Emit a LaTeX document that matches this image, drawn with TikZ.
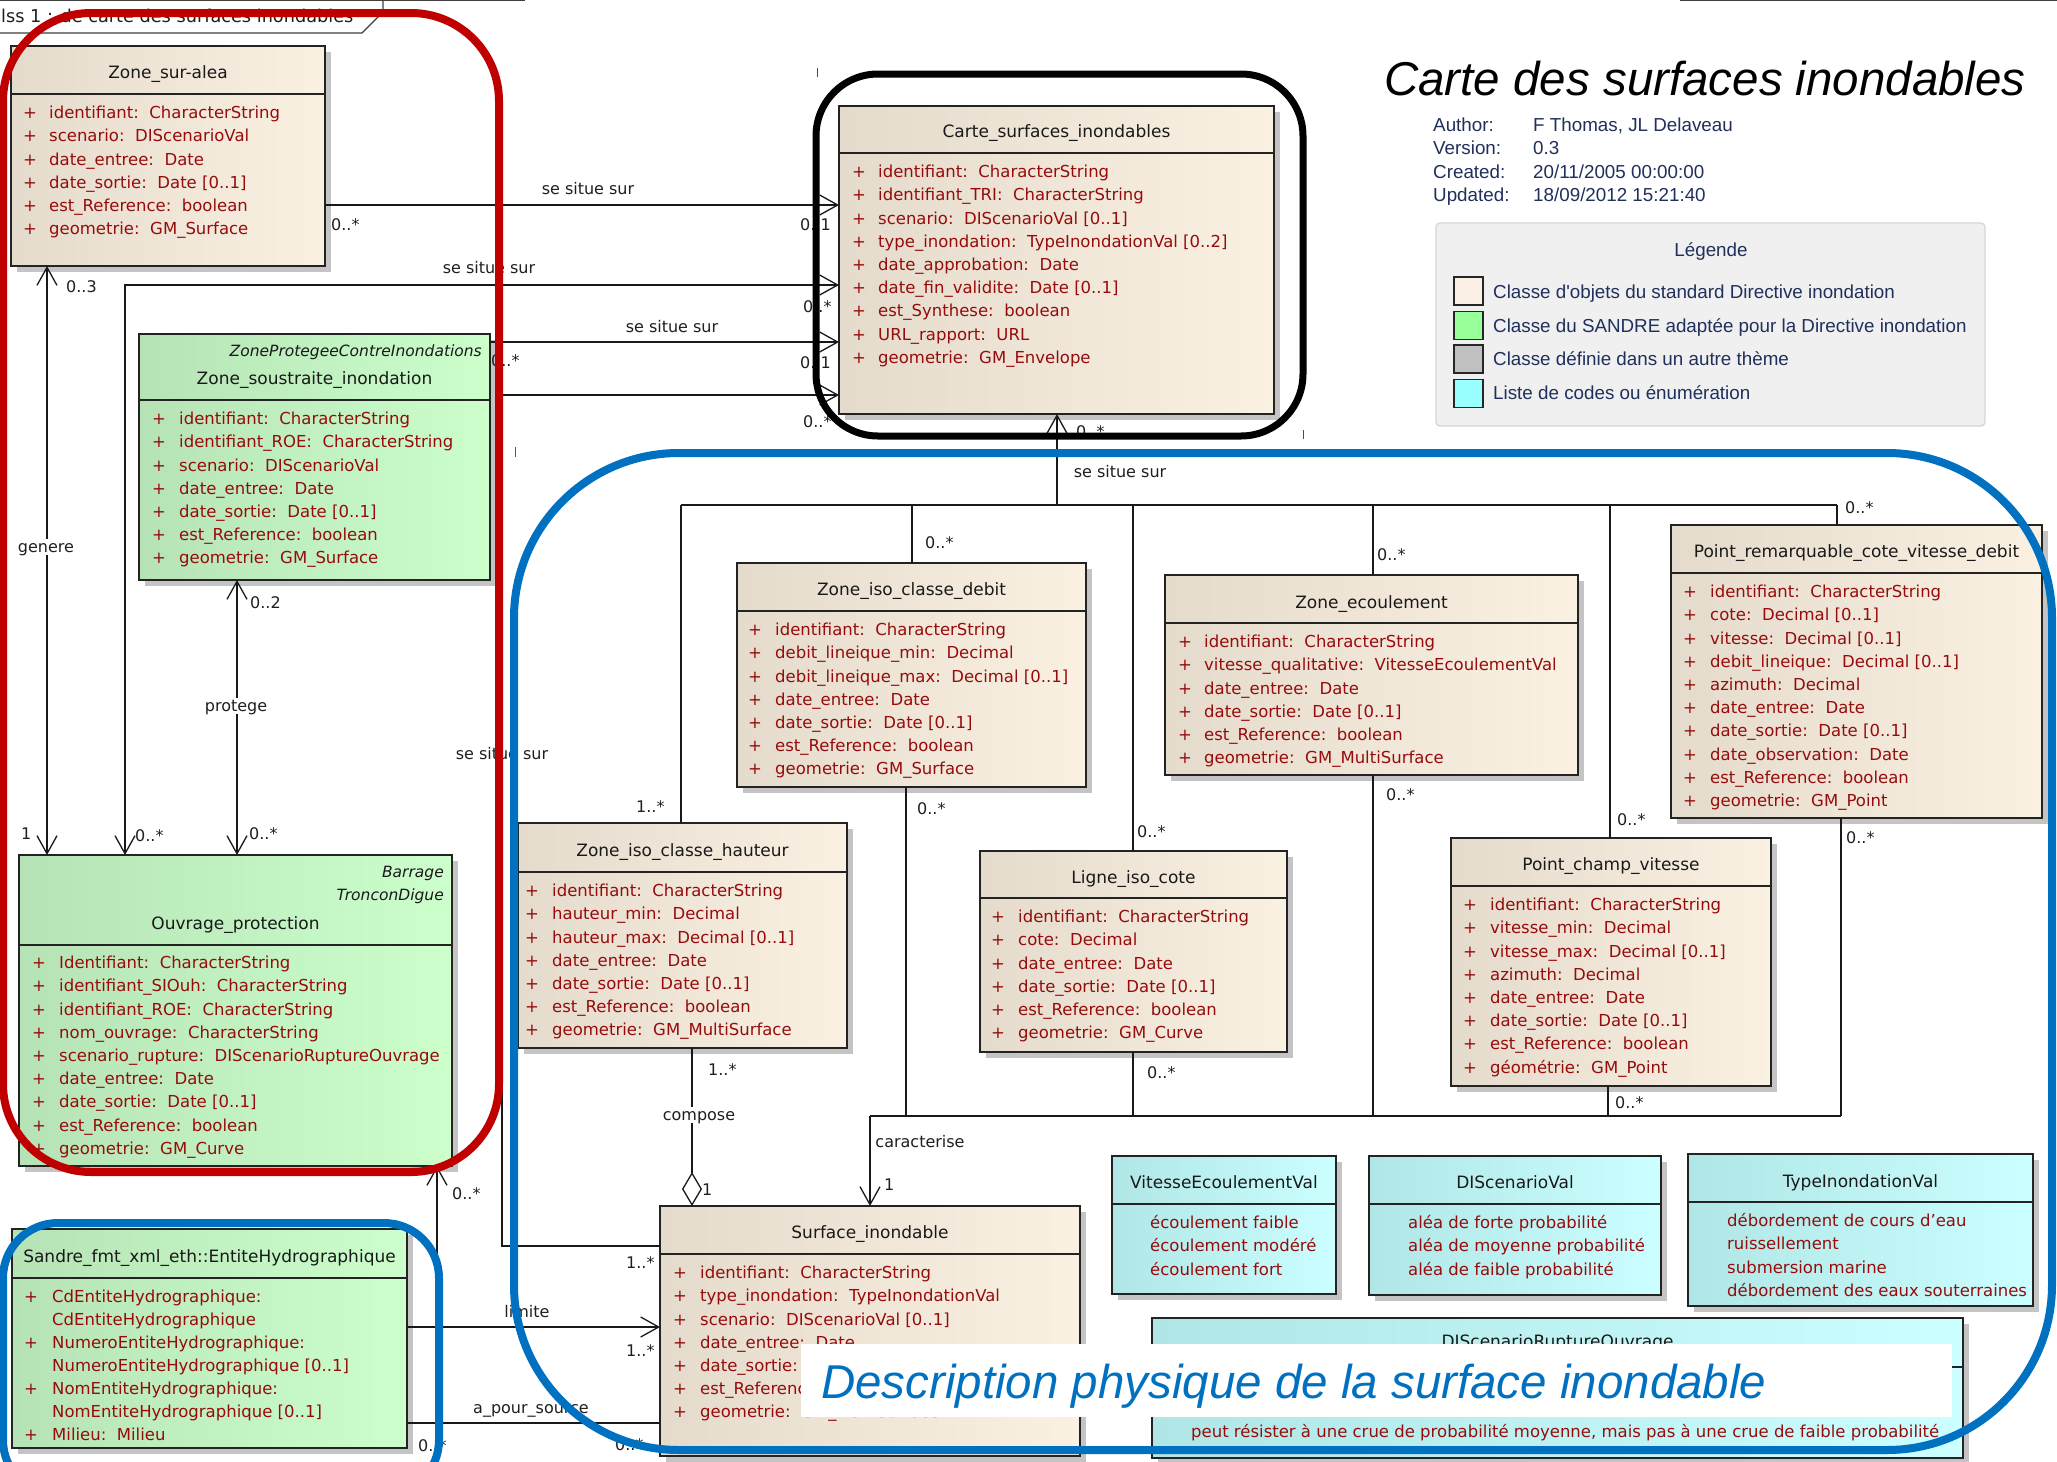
\documentclass[tikz,border=0pt]{standalone}
\usepackage{fontspec}
\setmainfont{DejaVu Sans}
\newfontfamily\libsans{Liberation Sans}
\usetikzlibrary{arrows.meta}

\definecolor{tanL}{RGB}{228,219,204}
\definecolor{tanR}{RGB}{251,241,227}
\definecolor{grnL}{RGB}{182,227,182}
\definecolor{grnR}{RGB}{204,255,204}
\definecolor{cyaL}{RGB}{176,230,230}
\definecolor{cyaR}{RGB}{204,255,255}
\definecolor{attrc}{RGB}{150,12,12}
\definecolor{boxline}{RGB}{35,35,35}
\definecolor{shadowc}{RGB}{196,196,196}
\definecolor{linec}{RGB}{25,25,25}
\definecolor{redf}{RGB}{192,0,0}
\definecolor{bluef}{RGB}{0,112,192}
\definecolor{metac}{RGB}{32,48,92}
\definecolor{legfill}{RGB}{240,240,240}
\definecolor{legline}{RGB}{214,214,214}
\definecolor{lgtan}{RGB}{250,240,230}
\definecolor{lggrn}{RGB}{153,255,153}
\definecolor{lggry}{RGB}{192,192,192}
\definecolor{lgcya}{RGB}{153,255,255}

\newcommand\qcol{:\hspace{0.64em}}

\tikzset{
  clsbox/.style={draw=boxline, line width=1.6pt, inner sep=0pt, outer sep=0pt},
  clsline/.style={draw=boxline, line width=1.4pt},
  attr/.style={font=\fontsize{16.5}{18}\selectfont, text=attrc, inner sep=0pt, text height=11.5pt, text depth=0pt},
  ttl/.style={font=\fontsize{17}{18}\selectfont, text=black!90, inner sep=0pt, text height=11.5pt, text depth=0pt},
  stereo/.style={font=\fontsize{15.5}{17}\selectfont\itshape, text=black!90, inner sep=0pt, text height=11.5pt, text depth=0pt},
  lbl/.style={font=\fontsize{16}{18}\selectfont, text=black!88, inner sep=0pt, text height=11.5pt, text depth=0pt},
  lblw/.style={lbl, fill=white, inner sep=2pt},
  mult/.style={lbl, anchor=west},
  assoc/.style={draw=linec, line width=1.3pt},
  >={Straight Barb[length=18pt,width=20pt]},
  metat/.style={font=\libsans\fontsize{18.8}{20}\selectfont, text=metac, inner sep=0pt, text height=13pt, text depth=0pt, anchor=west},
  legsq/.style={draw=black!85, line width=1.6pt, minimum width=29pt, minimum height=28pt, inner sep=0pt},
  frameline/.style={line width=1.2pt, draw=black!75},
}

\newcommand\umlcls[8]{%
  \fill[shadowc] (#2+6,#3+6) rectangle (#4+6,#5+6);
  \node[clsbox, left color=#7, right color=#8, minimum width={#4-#2}, minimum height={#5-#3}, anchor=north west] (#1) at (#2,#3) {};
  \draw[clsline] (#2,#6) -- (#4,#6);
}
\newcommand\attrs[5]{%
  \foreach \attxt [count=\rowi] in {#5}{%
    \node[attr, anchor=west] (#1p\rowi) at (#2,{#4+23.2*(\rowi-1)}) {+};
    \node[attr, anchor=west] (#1a\rowi) at (#3,{#4+23.2*(\rowi-1)}) {\attxt};
  }%
}
\newcommand\vals[4]{%
  \foreach \attxt [count=\rowi] in {#4}{%
    \node[attr, anchor=west] (#1v\rowi) at (#2,{#3+23.2*(\rowi-1)}) {\attxt};
  }%
}

\begin{document}
\begin{tikzpicture}[x=1pt,y=-1pt]
\useasboundingbox (0,0) rectangle (2057,1462);
\fill[white] (0,0) rectangle (2057,1462);

% ---------- diagram frame tab ----------
\node[lbl, font=\fontsize{17.7}{19}\selectfont, anchor=base west] (frametab) at (1,22) {lss 1 : de carte des surfaces inondables};
\draw[frameline] (0,33) -- (362,33) -- (383,12) -- (383,0);
\draw[frameline] (0,0.8) -- (525,0.8);
\draw[frameline] (1680,0.8) -- (2057,0.8);

% ---------- classes ----------
\umlcls{zsa}{11}{46}{325}{266}{94}{tanL}{tanR}
\node[ttl] (zsat) at (168,73) {Zone\_sur-alea};
\attrs{zsa}{23}{49}{113}{identifiant\qcol CharacterString, scenario\qcol DIScenarioVal, date\_entree\qcol Date, date\_sortie\qcol Date [0..1], est\_Reference\qcol boolean, geometrie\qcol GM\_Surface}

\umlcls{carte}{839}{106}{1274}{414}{153}{tanL}{tanR}
\node[ttl] (cartet) at (1056.5,132) {Carte\_surfaces\_inondables};
\attrs{carte}{852}{878}{172}{identifiant\qcol CharacterString, identifiant\_TRI\qcol CharacterString, scenario\qcol DIScenarioVal [0..1], type\_inondation\qcol TypeInondationVal [0..2], date\_approbation\qcol Date, date\_fin\_validite\qcol Date [0..1], est\_Synthese\qcol boolean, URL\_rapport\qcol URL, geometrie\qcol GM\_Envelope}

\umlcls{zsi}{139}{334}{490}{580}{400}{grnL}{grnR}
\node[stereo, anchor=east] (zsis) at (482,351) {ZoneProtegeeContreInondations};
\node[ttl] (zsit) at (314.5,379) {Zone\_soustraite\_inondation};
\attrs{zsi}{152}{179}{419}{identifiant\qcol CharacterString, identifiant\_ROE\qcol CharacterString, scenario\qcol DIScenarioVal, date\_entree\qcol Date, date\_sortie\qcol Date [0..1], est\_Reference\qcol boolean, geometrie\qcol GM\_Surface}

\umlcls{ouv}{19}{855}{452}{1166}{945}{grnL}{grnR}
\node[stereo, anchor=east] (ouvs1) at (444,872) {Barrage};
\node[stereo, anchor=east] (ouvs2) at (444,895) {TronconDigue};
\node[ttl] (ouvt) at (235.5,924) {Ouvrage\_protection};
\attrs{ouv}{32}{59}{963}{Identifiant\qcol CharacterString, identifiant\_SIOuh\qcol CharacterString, identifiant\_ROE\qcol CharacterString, nom\_ouvrage\qcol CharacterString, scenario\_rupture\qcol DIScenarioRuptureOuvrage, date\_entree\qcol Date, date\_sortie\qcol Date [0..1], est\_Reference\qcol boolean, geometrie\qcol GM\_Curve}

\umlcls{sandre}{12}{1229}{407}{1448}{1278}{grnL}{grnR}
\node[ttl] (sandret) at (209.5,1257) {Sandre\_fmt\_xml\_eth::EntiteHydrographique};
\node[attr, anchor=west] (sandrep1) at (24,1297) {+};
\node[attr, anchor=west] (sandrea1) at (52,1297) {CdEntiteHydrographique:};
\node[attr, anchor=west] (sandrea2) at (52,1320) {CdEntiteHydrographique};
\node[attr, anchor=west] (sandrep3) at (24,1343) {+};
\node[attr, anchor=west] (sandrea3) at (52,1343) {NumeroEntiteHydrographique:};
\node[attr, anchor=west] (sandrea4) at (52,1366) {NumeroEntiteHydrographique [0..1]};
\node[attr, anchor=west] (sandrep5) at (24,1389) {+};
\node[attr, anchor=west] (sandrea5) at (52,1389) {NomEntiteHydrographique:};
\node[attr, anchor=west] (sandrea6) at (52,1412) {NomEntiteHydrographique [0..1]};
\node[attr, anchor=west] (sandrep7) at (24,1435) {+};
\node[attr, anchor=west] (sandrea7) at (52,1435) {Milieu\qcol Milieu};

\umlcls{debit}{737}{563}{1086}{787}{611}{tanL}{tanR}
\node[ttl] (debitt) at (911.5,590) {Zone\_iso\_classe\_debit};
\attrs{debit}{748}{775}{630}{identifiant\qcol CharacterString, debit\_lineique\_min\qcol Decimal, debit\_lineique\_max\qcol Decimal [0..1], date\_entree\qcol Date, date\_sortie\qcol Date [0..1], est\_Reference\qcol boolean, geometrie\qcol GM\_Surface}

\umlcls{ecoul}{1165}{575}{1578}{775}{623}{tanL}{tanR}
\node[ttl] (ecoult) at (1371.5,603) {Zone\_ecoulement};
\attrs{ecoul}{1178}{1204}{642}{identifiant\qcol CharacterString, vitesse\_qualitative\qcol VitesseEcoulementVal, date\_entree\qcol Date, date\_sortie\qcol Date [0..1], est\_Reference\qcol boolean, geometrie\qcol GM\_MultiSurface}

\umlcls{prcvd}{1671}{525}{2042}{818}{573}{tanL}{tanR}
\node[ttl] (prcvdt) at (1856.5,552) {Point\_remarquable\_cote\_vitesse\_debit};
\attrs{prcvd}{1683}{1710}{592}{identifiant\qcol CharacterString, cote\qcol Decimal [0..1], vitesse\qcol Decimal [0..1], debit\_lineique\qcol Decimal [0..1], azimuth\qcol Decimal, date\_entree\qcol Date, date\_sortie\qcol Date [0..1], date\_observation\qcol Date, est\_Reference\qcol boolean, geometrie\qcol GM\_Point}

\umlcls{haut}{518}{823}{847}{1048}{872}{tanL}{tanR}
\node[ttl] (hautt) at (682.5,851) {Zone\_iso\_classe\_hauteur};
\attrs{haut}{525}{552}{891}{identifiant\qcol CharacterString, hauteur\_min\qcol Decimal, hauteur\_max\qcol Decimal [0..1], date\_entree\qcol Date, date\_sortie\qcol Date [0..1], est\_Reference\qcol boolean, geometrie\qcol GM\_MultiSurface}

\umlcls{ligne}{980}{851}{1287}{1052}{898}{tanL}{tanR}
\node[ttl] (lignet) at (1133.5,878) {Ligne\_iso\_cote};
\attrs{ligne}{991}{1018}{917}{identifiant\qcol CharacterString, cote\qcol Decimal, date\_entree\qcol Date, date\_sortie\qcol Date [0..1], est\_Reference\qcol boolean, geometrie\qcol GM\_Curve}

\umlcls{pcv}{1451}{838}{1771}{1086}{886}{tanL}{tanR}
\node[ttl] (pcvt) at (1611,865) {Point\_champ\_vitesse};
\attrs{pcv}{1463}{1490}{905}{identifiant\qcol CharacterString, vitesse\_min\qcol Decimal, vitesse\_max\qcol Decimal [0..1], azimuth\qcol Decimal, date\_entree\qcol Date, date\_sortie\qcol Date [0..1], est\_Reference\qcol boolean, géométrie\qcol GM\_Point}

\umlcls{surf}{660}{1206}{1080}{1456}{1254}{tanL}{tanR}
\node[ttl] (surft) at (870,1233) {Surface\_inondable};
\attrs{surf}{673}{700}{1273}{identifiant\qcol CharacterString, type\_inondation\qcol TypeInondationVal, scenario\qcol DIScenarioVal [0..1], date\_entree\qcol Date, date\_sortie\qcol Date [0..1], est\_Reference\qcol boolean, geometrie\qcol GM\_MultiSurface}

\umlcls{vev}{1112}{1156}{1336}{1294}{1204}{cyaL}{cyaR}
\node[ttl] (vevt) at (1224,1183) {VitesseEcoulementVal};
\vals{vev}{1150}{1223}{écoulement faible, écoulement modéré, écoulement fort}

\umlcls{dsv}{1369}{1156}{1661}{1295}{1204}{cyaL}{cyaR}
\node[ttl] (dsvt) at (1515,1183) {DIScenarioVal};
\vals{dsv}{1408}{1223}{aléa de forte probabilité, aléa de moyenne probabilité, aléa de faible probabilité}

\umlcls{tiv}{1688}{1154}{2033}{1306}{1202}{cyaL}{cyaR}
\node[ttl] (tivt) at (1860.5,1182) {TypeInondationVal};
\vals{tiv}{1727}{1221}{débordement de cours d'eau, ruissellement, submersion marine, débordement des eaux souterraines}

\umlcls{dsro}{1152}{1318}{1963}{1458}{1367}{cyaL}{cyaR}
\node[ttl] (dsrot) at (1557.5,1342) {DIScenarioRuptureOuvrage};
\node[attr, anchor=west] (dsrov) at (1191,1432) {peut résister à une crue de probabilité moyenne, mais pas à une crue de faible probabilité};

% ---------- connectors ----------
\draw[assoc,->] (zsa.east |- 0,205) -- (carte.west |- 0,205);
\draw[assoc,<->] (ouv.north -| 125,0) -- (125,285) -- (carte.west |- 0,285);
\draw[assoc,->] (zsi.east |- 0,342) -- (carte.west |- 0,342);
\draw[assoc,->] (surf.west |- 0,1246) -- (502,1246) -- (502,395) -- (carte.west |- 0,395);
\draw[assoc,->] (sandre.east |- 0,1327) -- (surf.west |- 0,1327);
\draw[assoc] (sandre.east |- 0,1423) -- (surf.west |- 0,1423);
\coordinate (jsrc) at (437,1423);
\draw[assoc,->] (jsrc) -- (ouv.south -| jsrc);
\draw[assoc,<->] (zsa.south -| 47,0) -- (ouv.north -| 47,0);
\draw[assoc,<->] (zsi.south -| 237,0) -- (ouv.north -| 237,0);
\coordinate (bt) at (1057,505);
\draw[assoc,->] (bt) -- (carte.south -| bt);
\draw[assoc] (681,505) -- (1837,505);
\draw[assoc] (681,505) -- (haut.north -| 681,0);
\draw[assoc] (912,505) -- (debit.north -| 912,0);
\draw[assoc] (1133,505) -- (ligne.north -| 1133,0);
\draw[assoc] (1373,505) -- (ecoul.north -| 1373,0);
\draw[assoc] (1610,505) -- (pcv.north -| 1610,0);
\draw[assoc] (1837,505) -- (prcvd.north -| 1837,0);
\draw[assoc] (870,1116) -- (1841,1116);
\draw[assoc] (debit.south -| 906,0) -- (906,1116);
\draw[assoc] (ligne.south -| 1133,0) -- (1133,1116);
\draw[assoc] (ecoul.south -| 1373,0) -- (1373,1116);
\draw[assoc] (pcv.south -| 1608,0) -- (1608,1116);
\draw[assoc] (prcvd.south -| 1841,0) -- (1841,1116);
\draw[assoc,->] (870,1116) -- (surf.north -| 870,0);
\draw[assoc,-{Diamond[fill=white,length=34pt,width=20pt]}] (haut.south -| 692,0) -- (surf.north -| 692,0);

% ---------- connector labels ----------
\node[lbl] (l1) at (588,189) {se situe sur};
\node[lbl] (l2) at (489,268) {se situe sur};
\node[lbl] (l3) at (672,327) {se situe sur};
\node[lbl] (l4) at (502,754) {se situe sur};
\node[lbl] (l5) at (1120,472) {se situe sur};
\node[lblw] (lgen) at (46,547) {genere};
\node[lblw] (lpro) at (236,706) {protege};
\node[lblw] (lcom) at (699,1115) {compose};
\node[lbl] (lcar) at (920,1142) {caracterise};
\node[lbl] (llim) at (527,1312) {limite};
\node[lbl] (lsrc) at (531,1408) {a\_pour\_source};

\node[mult] (m1) at (331,225) {0..*};
\node[mult] (m2) at (800,225) {0..1};
\node[mult] (m3) at (803,307) {0..*};
\node[mult] (m4) at (135,836) {0..*};
\node[mult] (m5) at (491,361) {0..*};
\node[mult] (m6) at (800,363) {0..1};
\node[mult] (m7) at (803,422) {0..*};
\node[mult] (m8) at (626,1263) {1..*};
\node[mult] (m9) at (626,1351) {1..*};
\node[mult] (m10) at (418,1446) {0..*};
\node[mult] (m11) at (615,1445) {0..*};
\node[mult] (m12) at (452,1194) {0..*};
\node[mult] (m13) at (66,287) {0..3};
\node[mult] (m14) at (21,834) {1};
\node[mult] (m15) at (250,603) {0..2};
\node[mult] (m16) at (249,834) {0..*};
\node[mult] (m17) at (1076,432) {0..*};
\node[mult] (m18) at (636,807) {1..*};
\node[mult] (m19) at (925,543) {0..*};
\node[mult] (m20) at (1137,832) {0..*};
\node[mult] (m21) at (1377,555) {0..*};
\node[mult] (m22) at (1617,820) {0..*};
\node[mult] (m23) at (1845,508) {0..*};
\node[mult] (m24) at (917,809) {0..*};
\node[mult] (m25) at (1147,1073) {0..*};
\node[mult] (m26) at (1386,795) {0..*};
\node[mult] (m27) at (1615,1103) {0..*};
\node[mult] (m28) at (1846,838) {0..*};
\node[mult] (m29) at (884,1185) {1};
\node[mult] (m30) at (708,1070) {1..*};
\node[mult] (m31) at (702,1190) {1};

% ---------- highlight frames ----------
\draw[line width=8pt, redf, rounded corners=88pt] (3,13) rectangle (499,1172);
\draw[line width=7pt, black, rounded corners=62pt] (816,74) rectangle (1303,436);
\draw[line width=8pt, bluef, rounded corners=165pt] (514,453) rectangle (2052,1450);
\draw[line width=8pt, bluef, rounded corners=55pt] (3,1223) rectangle (439,1495);
\draw[line width=1pt, black!70] (817,68) -- (817,77);
\draw[line width=1pt, black!70] (1303,430) -- (1303,439);
\draw[line width=1pt, bluef] (515,447) -- (515,457);

% ---------- description label ----------
\node[fill=white, inner sep=0pt, minimum width=1151pt, minimum height=73pt, anchor=north west] (descbox) at (801,1344) {};
\node[font=\libsans\itshape\fontsize{47.5}{50}\selectfont, text=bluef, anchor=base west, inner sep=0pt] (desc) at (821,1398) {Description physique de la surface inondable};

% ---------- title and notes ----------
\node[font=\libsans\itshape\fontsize{47.5}{50}\selectfont, text=black, anchor=base west, inner sep=0pt] (maintitle) at (1384,95) {Carte des surfaces inondables};
\node[metat] (na1) at (1433,125) {Author:};
\node[metat] (nb1) at (1533,125) {F Thomas, JL Delaveau};
\node[metat] (na2) at (1433,148) {Version:};
\node[metat] (nb2) at (1533,148) {0.3};
\node[metat] (na3) at (1433,172) {Created:};
\node[metat] (nb3) at (1533,172) {20/11/2005 00:00:00};
\node[metat] (na4) at (1433,195) {Updated:};
\node[metat] (nb4) at (1533,195) {18/09/2012 15:21:40};

% ---------- legend ----------
\draw[fill=legfill, draw=legline, line width=1.4pt, rounded corners=4pt] (1436,223) rectangle (1985,426);
\node[metat, anchor=center] (legt) at (1711,250) {Légende};
\node[legsq, fill=lgtan] (lg1) at (1468.5,291) {};
\node[legsq, fill=lggrn] (lg2) at (1468.5,325.5) {};
\node[legsq, fill=lggry] (lg3) at (1468.5,359) {};
\node[legsq, fill=lgcya] (lg4) at (1468.5,393.5) {};
\node[metat] (lgt1) at (1493,292) {Classe d'objets du standard Directive inondation};
\node[metat] (lgt2) at (1493,326) {Classe du SANDRE adaptée pour la Directive inondation};
\node[metat] (lgt3) at (1493,359) {Classe définie dans un autre thème};
\node[metat] (lgt4) at (1493,393) {Liste de codes ou énumération};
\end{tikzpicture}
\end{document}
